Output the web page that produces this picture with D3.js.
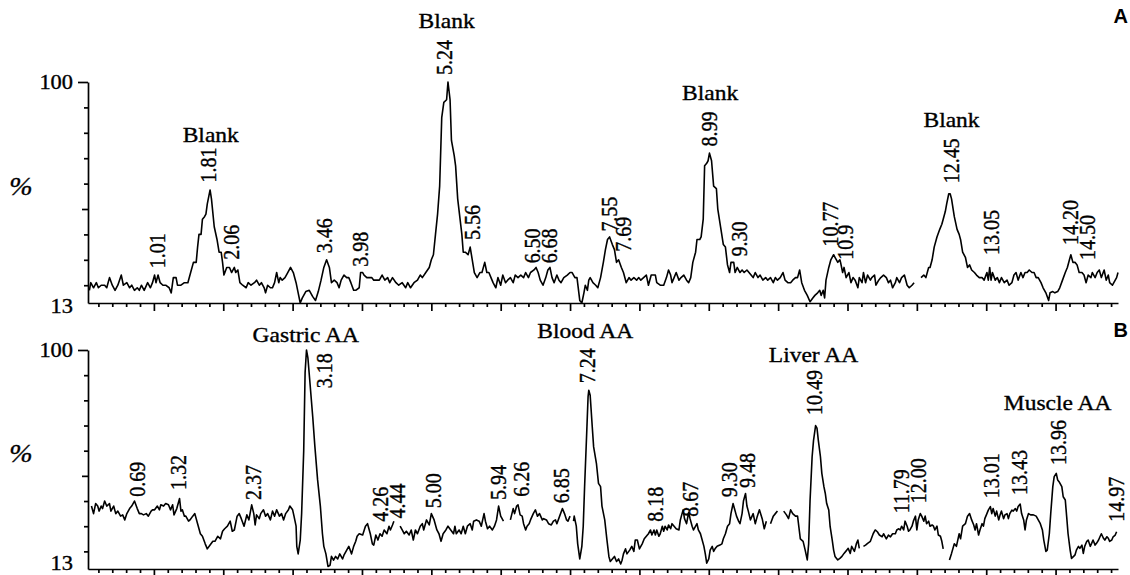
<!DOCTYPE html>
<html>
<head>
<meta charset="utf-8">
<script src="https://cdnjs.cloudflare.com/ajax/libs/d3/7.8.5/d3.min.js"></script>
<style>
    body { margin: 0; background: #fff; }
    svg { display: block; }
    .serif { font-family: "Liberation Serif", "Times New Roman", serif; fill: #000; stroke: #000; stroke-width: 0.35; }
    .trace { fill: none; stroke: #000; stroke-width: 1.6; stroke-linejoin: round; }
    .axis path, .axis line { stroke: #000; stroke-width: 1.7; }
</style>
</head>
<body>
<svg id="chart" width="1130" height="575"></svg>
<script>
"use strict";

// хроматограмма A (холостая проба): [время, мин; интенсивность, %], null = разрыв линии
const traceA = [
    [0.07,18],[0.09,21],[0.13,19],[0.17,21],[0.20,19],[0.24,20],[0.29,20],[0.32,19],[0.36,23],[0.40,20],
    [0.44,18],[0.48,20],[0.53,24],[0.56,20],[0.61,21],[0.65,19],[0.68,20],[0.72,18],[0.76,19],[0.79,18],
    [0.82,20],[0.86,18],[0.91,21],[0.95,19],[0.98,21],[1.01,24],[1.03,21],[1.06,24],[1.09,21],[1.13,20],
    [1.17,20],[1.22,19],[1.25,17],[1.28,23],[1.32,23],[1.34,20],[1.39,20],[1.44,21],[1.49,21],[1.53,25],
    [1.57,29],[1.61,29],[1.63,35],[1.65,40],[1.68,40],[1.70,46],[1.73,47],[1.75,48],[1.77,52],[1.81,57.5],
    [1.83,54],[1.87,43],[1.91,38],[1.94,33],[1.97,33],[1.99,29],[2.01,24],[2.05,27],[2.09,27],[2.12,25],
    [2.16,27],[2.18,25],[2.21,26],[2.24,21],[2.28,20],[2.33,19],[2.36,21],[2.40,20],[2.45,21],[2.48,22],
    [2.52,20],[2.55,21],[2.59,19],[2.61,17],[2.64,20],[2.68,19],[2.71,19],[2.74,21],[2.77,25],[2.80,21],
    [2.82,23],[2.85,22],[2.89,23],[2.93,25],[2.97,27],[3.01,25],[3.05,21],[3.08,17],[3.11,13],[3.14,15],
    [3.19,17.5],[3.24,18],[3.29,15.5],[3.33,14],[3.37,17.5],[3.41,22],[3.45,27],[3.49,30],[3.53,27],[3.56,21],
    [3.60,22],[3.64,21],[3.67,19],[3.70,22],[3.74,24],[3.78,23],[3.81,23],[3.84,21],[3.88,18],[3.91,18],
    [3.96,19],[3.98,25],[4.01,25],[4.03,24],[4.07,23],[4.10,23],[4.14,23],[4.17,22],
    [4.25,22],[4.29,24],[4.33,22],[4.37,23],[4.40,21],[4.44,23],[4.49,21],[4.53,20],[4.58,21],[4.63,19],
    [4.66,21],[4.70,19],[4.75,21],[4.80,22],[4.84,24],[4.87,23],[4.92,25],[4.97,27],[5.00,30],[5.03,32],
    [5.06,40],[5.09,48],[5.12,59],[5.15,86],[5.18,92],[5.22,93],[5.24,100],[5.27,93],[5.29,77],[5.33,71],
    [5.35,67],[5.38,54],[5.41,47],[5.44,40],[5.46,33],[5.49,33],[5.53,32],[5.56,35],[5.59,30],[5.62,25],
    [5.66,23],[5.70,25],[5.73,25],[5.77,29],[5.80,25],[5.83,25],[5.86,23],[5.89,21],[5.93,19],[5.96,23],
    [6.00,20],[6.03,24],[6.07,21],[6.10,22],[6.14,23],[6.18,21],[6.21,24],[6.25,23],[6.29,24],[6.33,23],
    [6.36,25],[6.40,23],[6.43,25],[6.48,26],[6.51,27],[6.54,25],[6.57,22],[6.61,20],[6.65,23],[6.68,26],
    [6.71,27],[6.74,23],[6.77,21],[6.81,24],[6.84,22],[6.87,21],[6.91,23],[6.96,24],[7.00,25],[7.03,25],
    [7.07,23],[7.10,23],[7.14,14],[7.17,13],[7.20,17],[7.22,20],[7.25,18],[7.27,22],[7.29,23],[7.33,21],
    [7.37,20],[7.40,19],[7.44,23],[7.48,29],[7.51,34],[7.54,38],[7.57,39],[7.61,36],[7.64,34],[7.67,29],
    [7.70,30],[7.74,27],[7.77,25],[7.81,21],[7.85,23],[7.88,22],[7.92,23],[7.96,22],[7.99,23],[8.02,22],
    [8.06,23],[8.10,24],[8.13,20],[8.17,24],[8.21,24],[8.23,24],[8.25,21],[8.30,20],[8.35,20],[8.39,23],
    [8.42,26],[8.45,24],[8.47,21],[8.50,23],[8.53,25],[8.57,22],[8.60,23],[8.64,24],[8.68,22],[8.71,21],
    [8.74,23],[8.77,29],[8.81,33],[8.83,38],[8.87,38],[8.89,39],[8.92,46],[8.94,67],[8.97,68],[8.99,69],
    [9.01,72],[9.04,69],[9.07,59],[9.11,58],[9.13,50],[9.17,43],[9.21,36],[9.24,35],[9.27,28],[9.30,25],
    [9.32,29],[9.36,29],[9.38,25],[9.41,27],[9.45,25],[9.48,26],[9.51,25],[9.55,26],
    [9.64,23],[9.67,25],[9.71,23],[9.74,24],[9.78,22],[9.82,23],[9.85,22],[9.89,23],[9.93,21],[9.96,23],
    [9.99,22],[10.03,23],[10.07,25],[10.10,22],[10.14,21],[10.18,21],[10.21,22],[10.25,23],[10.28,23],[10.31,26],
    [10.34,21],[10.38,18],[10.42,16],[10.46,13.5],[10.50,15],[10.53,16],[10.57,17],[10.60,18],[10.62,16],[10.65,18],
    [10.67,15],[10.69,22],[10.73,27],[10.76,30],[10.80,32],[10.82,31],[10.86,29],[10.89,30],[10.90,29],[10.93,25],
    [10.95,27],[10.98,23],[11.02,25],[11.05,21],[11.08,23],[11.11,22],[11.15,19],[11.17,23],[11.21,21],[11.23,25],
    [11.26,21],[11.29,24],[11.33,22],[11.35,23],[11.39,24],[11.41,20],[11.45,22],[11.48,23],[11.52,24],[11.56,23],
    [11.59,21],[11.62,22],[11.65,19],[11.69,21],[11.71,23],[11.75,21],[11.78,23],[11.82,24],[11.86,20],[11.89,19],
    [11.93,20],[11.96,21],null,
    [12.06,23],[12.10,24],[12.13,23],[12.17,27],[12.19,27],[12.22,30],[12.25,35],[12.29,39],[12.33,42],[12.36,44],
    [12.38,46],[12.41,49],[12.43,52],[12.46,56],[12.48,56],[12.50,54],[12.54,47],[12.58,42],[12.61,40],[12.63,38],
    [12.66,33],[12.70,31],[12.73,27],[12.76,28],[12.79,26],[12.83,25],[12.86,24],[12.90,23],[12.94,23],[12.97,22],
    [13.01,25],[13.03,22],[13.05,27],[13.07,22],[13.09,25],[13.13,22],[13.16,23],[13.19,21],[13.22,23],[13.26,21],
    [13.30,22],[13.33,20],[13.37,21],[13.40,24],[13.43,25],[13.46,22],[13.50,25],[13.53,23],[13.56,25],[13.59,25],
    [13.62,26],[13.66,25],[13.69,25],[13.72,23],[13.75,23],[13.79,21],[13.82,19],[13.86,17],[13.90,14],[13.92,17],
    [13.96,17.5],[13.99,17],[14.03,17.5],[14.06,19],[14.10,22],[14.14,25],[14.17,27],[14.20,30],[14.22,32],[14.25,29],
    [14.28,29],[14.31,28],[14.34,25],[14.38,25],[14.41,24],[14.44,21],[14.47,24],[14.51,23],[14.53,25],[14.57,23],
    [14.60,25],[14.63,26],[14.66,23],[14.70,26],[14.73,22],[14.76,24],[14.78,21],[14.82,20],[14.86,22],[14.88,23],
    [14.90,25]
];

// хроматограмма B (образцы AA)
const traceB = [
    [0.10,38],[0.13,35],[0.16,39],[0.19,38],[0.21,36],[0.24,38],[0.26,37],[0.29,40],[0.32,38],[0.36,39],
    [0.38,36],[0.42,38],[0.45,35],[0.48,36],[0.52,34],[0.55,34.5],[0.58,32.5],[0.61,35],[0.65,37],[0.68,38],
    [0.72,40],[0.76,37],[0.79,35],[0.82,35],[0.85,34.5],[0.89,35],[0.92,34],[0.96,36],[0.98,36.5],[1.01,36.5],
    [1.05,38],[1.08,36.5],[1.10,38.5],[1.14,38],[1.17,39],[1.21,38.5],[1.24,36.5],[1.27,38.5],[1.29,34.5],[1.33,37],
    [1.37,41],[1.39,36],[1.41,36.5],[1.44,34],[1.46,34],[1.50,32],[1.52,32.5],[1.56,34],[1.59,35],[1.63,31],
    [1.67,27],[1.70,26],[1.74,23],[1.77,21],[1.81,22.5],[1.85,24],[1.88,24],[1.92,26],[1.96,25],[1.99,28],
    [2.02,29],[2.06,30],[2.10,32],[2.13,28],[2.16,28.5],[2.20,34],[2.23,35],[2.26,33],[2.30,30],[2.34,34.5],
    [2.37,32.5],[2.41,38.5],[2.44,35],[2.46,30.5],[2.48,34.5],[2.52,33],[2.54,35],[2.58,36.5],[2.61,34],[2.64,35],
    [2.68,32.5],[2.71,36],[2.74,34],[2.77,36.5],[2.81,34],[2.84,35],[2.87,32.5],[2.90,35],[2.94,36.5],[2.96,38],
    [3.00,36.5],[3.02,34],[3.05,30],[3.06,22],[3.08,19],[3.11,24.5],[3.13,35],[3.16,60],[3.18,91],[3.20,100],
    [3.22,97],[3.25,87],[3.29,73.5],[3.32,62],[3.36,48.5],[3.40,38],[3.43,27],[3.45,22],[3.48,19],[3.51,14],
    [3.54,14.5],[3.56,18],[3.59,16.5],[3.62,18],[3.65,17],[3.68,19],[3.72,17],[3.74,18.5],[3.78,20.5],[3.81,22],
    [3.85,19],[3.88,22],[3.91,24],[3.93,26],[3.96,27],[4.01,26.5],[4.05,30],[4.08,31],[4.12,27],[4.15,23],
    [4.17,22.5],[4.20,26.5],[4.23,24.5],[4.26,27],[4.29,26],[4.32,28.5],[4.36,27],[4.39,30],[4.41,28.5],[4.44,30.5],
    [4.46,32],null,
    [4.55,30],[4.58,28.5],[4.61,27],[4.64,28],[4.68,26.5],[4.71,28.5],[4.74,24.5],[4.77,28.5],[4.80,27],[4.84,30],
    [4.87,31],[4.89,28.5],[4.93,32.5],[4.97,30.5],[5.00,35],[5.04,32.5],[5.08,28.5],[5.11,27],[5.14,24],[5.17,27],
    [5.21,28.5],[5.24,30],[5.28,28.5],[5.32,27],[5.34,30],[5.36,27],[5.40,28.5],[5.43,27],[5.46,30],[5.49,27],
    [5.52,30],[5.56,31],[5.59,28.5],[5.61,32],[5.65,32.5],[5.69,32],[5.72,30],[5.76,35],[5.78,32],[5.81,29],
    [5.84,30],[5.88,28.5],[5.91,30],[5.94,32.5],[5.97,38],[6.00,34],[6.04,32],null,
    [6.14,32.5],[6.18,37],[6.20,35],[6.23,38],[6.25,38.5],[6.28,34.5],[6.31,34],[6.33,31],[6.36,28.5],[6.38,30],
    [6.41,31],[6.43,32.5],[6.47,35],[6.50,36.5],[6.53,34],[6.56,35],[6.60,32.5],[6.62,33],[6.66,32.5],[6.69,31],
    [6.73,30.5],[6.76,32],[6.79,32.5],[6.81,31],[6.85,34],[6.89,37],[6.92,35],[6.95,32.5],[6.97,32],[7.00,34],null,
    [7.05,32],[7.06,34],[7.09,30],[7.11,23],[7.14,17],[7.17,22],[7.19,30],[7.21,46],[7.24,67],[7.26,81.5],
    [7.27,84],[7.29,82],[7.32,69.5],[7.34,61.5],[7.38,55],[7.41,47],[7.44,45.7],[7.46,38],[7.50,32.5],[7.53,25],
    [7.56,18],[7.58,16],[7.61,17],[7.64,18],[7.67,16],[7.70,17],[7.73,15],[7.75,16.5],[7.77,19],[7.80,21],
    [7.82,19],[7.86,20.5],[7.89,22],[7.92,20],[7.94,24.5],[7.97,24.5],[8.00,21],[8.04,23],[8.07,25],[8.10,26],
    [8.13,27],[8.16,28.5],[8.18,26.5],[8.21,28.5],[8.23,26.5],[8.25,28.5],[8.28,26],[8.30,27],[8.33,30],[8.35,28],
    [8.37,30],[8.40,28.5],[8.42,30.5],[8.45,29],[8.47,31],[8.50,30],[8.53,29],[8.57,28.5],[8.59,32.5],[8.61,34.5],
    [8.63,36.5],[8.65,33],[8.68,31],[8.71,35.5],[8.73,33],[8.76,30],[8.78,28.5],[8.81,30],[8.83,31],[8.85,28.5],
    [8.88,27],[8.90,25],[8.93,22],[8.95,19],[8.97,15.3],[9.00,17],[9.02,20.5],[9.05,22],[9.07,20],[9.09,21],
    [9.12,22],[9.16,22.5],[9.19,23],[9.21,25],[9.24,27],[9.27,30],[9.30,31],[9.32,35],[9.35,39],[9.37,37],
    [9.40,34],[9.43,32],[9.45,31],[9.48,35],[9.50,40],[9.53,43],[9.55,38],[9.57,36],
    [9.60,32.5],[9.64,35],[9.67,31],[9.70,34],[9.73,36.5],[9.77,33],[9.80,29],[9.83,32],null,
    [9.89,31],[9.93,34],[9.96,35],[9.99,36],null,
    [10.08,36],[10.12,34.5],[10.15,33],[10.18,36.5],[10.21,35],[10.25,34],[10.28,34],[10.32,25],[10.36,24],[10.39,20.5],
    [10.42,16.6],[10.44,23],[10.46,40],[10.49,57.6],[10.51,64],[10.54,70],[10.56,69],[10.58,64],[10.61,57.6],[10.63,51],
    [10.66,45.7],[10.68,43],[10.70,39],[10.73,36.4],[10.75,29.8],[10.78,24.5],[10.80,20.5],[10.82,18],[10.86,16.6],[10.89,17.2],
    [10.92,18],[10.95,19.2],[10.99,20.5],[11.01,21.2],[11.04,19.2],[11.06,22],[11.10,20],[11.13,23.2],[11.15,24.5],[11.17,21.2],null,
    [11.23,22],[11.26,22.5],[11.29,23.2],[11.33,24],[11.37,27],[11.40,28.5],[11.43,27.8],[11.46,26.5],[11.50,25.8],[11.52,27],
    [11.56,25],[11.59,26.5],[11.62,25.8],[11.65,27],[11.69,27],[11.71,28.5],[11.74,29],[11.76,28.5],[11.78,30],[11.81,28.5],
    [11.83,32],[11.86,30],[11.88,28],[11.90,28.5],[11.93,30],[11.95,32],[11.98,34],[12.00,28.5],[12.02,32.5],[12.05,35],
    [12.07,34],[12.10,32],[12.12,34],[12.14,31],[12.17,32],[12.19,30],[12.22,30.5],[12.24,30],[12.26,28.5],[12.29,30],
    [12.31,26.5],[12.34,26],[12.36,24],[12.38,21],null,
    [12.47,16.6],[12.50,19.2],[12.54,23],[12.57,22],[12.59,24.5],[12.61,27],[12.63,25],[12.66,30],[12.70,31],[12.73,34],
    [12.76,35],[12.79,32.5],[12.82,30.5],[12.84,28.5],[12.86,31],[12.89,26.5],[12.91,28.5],[12.94,31],[12.96,30],[12.98,33],
    [13.01,35],[13.03,36.4],[13.06,37.8],[13.08,35],[13.10,37],[13.13,34],[13.15,36],[13.18,32.5],[13.20,34.5],[13.22,36],
    [13.25,33],[13.27,34.5],[13.30,35],[13.32,33],[13.34,35],[13.37,36.4],[13.39,36],[13.42,37],[13.44,36],[13.46,37.8],
    [13.49,38.8],[13.51,35],[13.54,32.5],[13.56,28.5],[13.58,32.5],[13.61,35],[13.64,34.5],[13.68,34.5],[13.72,34],[13.75,32.5],
    [13.78,31],[13.81,28.5],[13.83,24.5],[13.86,20],[13.88,20.5],[13.91,27],[13.93,35],[13.96,45.7],[13.98,49.7],[14.01,51],
    [14.03,48.4],[14.05,47.7],[14.09,45.7],[14.11,41.7],[14.14,40.4],[14.16,33.8],[14.18,27],[14.21,20.5],[14.23,17.2],[14.26,18],
    [14.28,18.6],[14.30,20.5],[14.33,22],[14.35,21.2],[14.38,22.5],[14.40,19.2],[14.42,22],[14.45,24],[14.47,24.5],[14.50,22],
    [14.52,23.2],[14.54,24.5],[14.57,22.5],[14.59,23.2],[14.62,24.5],[14.64,25.8],[14.66,27],[14.69,25.2],[14.71,24.5],[14.74,25.8],
    [14.76,25.2],[14.78,24],[14.81,24.5],[14.83,25.8],[14.86,26.5],[14.88,27.8]
];

// подписи пиков: [текст, время, уровень начала подписи, %]
const peaksA = [
    ["1.01",1.04,26.7],["1.81",1.78,60.4],["2.06",2.12,30],["3.46",3.45,32.6],["3.98",3.97,27.3],
    ["5.24",5.19,102.8],["5.56",5.59,37.8],["6.50",6.46,28.6],["6.68",6.70,28.6],["7.55",7.56,41.1],
    ["7.69",7.76,33.2],["8.99",9.01,74.6],["9.30",9.44,31.3],["10.77",10.75,35.2],["10.9",10.96,30],
    ["12.45",12.49,60.1],["13.05",13.07,31.9],["14.20",14.21,35.8],["14.50",14.46,29.9]
];
const peaksB = [
    ["0.69",0.76,41.7],["1.32",1.35,44.4],["2.37",2.43,40.4],["3.18",3.45,84.8],["4.26",4.26,31.8],
    ["4.44",4.51,33.1],["5.00",5.02,37.1],["5.94",5.97,40.4],["6.26",6.30,41.7],["6.85",6.87,39.1],
    ["7.24",7.25,86.8],["8.18",8.23,31.8],["8.67",8.73,33.8],["9.30",9.30,41.5],["9.48",9.55,45.2],
    ["10.49",10.52,74.2],["11.79",11.77,35.1],["12.00",12.02,39.1],["13.01",13.07,41.1],["13.43",13.48,42.4],
    ["13.96",14.03,54.3],["14.97",14.88,31.8]
];

// названия проб: [текст, время (центр), уровень базовой линии, %]
const namesA = [["Blank",1.82,76.4],["Blank",5.22,121.1],["Blank",9.02,92.9],["Blank",12.50,82.4]];
const namesB = [["Gastric AA",3.19,103],["Blood AA",7.22,104.6],["Liver AA",10.51,95.4],["Muscle AA",14.03,76.2]];

// деления осей
const xMajorTicks = [1,2,3,4,5,6,7,8,9,10,11,12,13,14];
const yLabelTicks = [13, 100];
const yMinorTicks = [20, 30, 40, 50, 60, 70, 80, 90, 100];

const STRETCH = 1.12;  // скан растянут по горизонтали

let svg = d3.select("#chart");

let x = d3.scaleLinear().domain([0.05, 14.9]).range([88, 1118]);
let xMinorTicks = d3.range(1, 75).map((i) => i / 5).filter((t) => Math.abs(t - Math.round(t)) > 1e-6);

let panels = [
    {trace: traceA, peaks: peaksA, names: namesA, letter: "A", top: 82, bottom: 303, letterY: 23, lowDy: "0.45em"},
    {trace: traceB, peaks: peaksB, names: namesB, letter: "B", top: 350, bottom: 569, letterY: 337, lowDy: "0.02em"},
];

panels.forEach(function (p) {
    let y = d3.scaleLinear().domain([13, 100]).range([p.bottom, p.top]);
    let g = svg.append("g");

    // ось X: крупные и мелкие деления
    g.append("g")
        .attr("class", "axis")
        .attr("transform", `translate(0,${p.bottom})`)
        .call(d3.axisBottom(x).tickValues(xMajorTicks).tickSize(8).tickSizeOuter(0).tickFormat(""));
    g.append("g")
        .attr("class", "axis")
        .attr("transform", `translate(0,${p.bottom})`)
        .call(d3.axisBottom(x).tickValues(xMinorTicks).tickSize(4).tickSizeOuter(0).tickFormat(""))
        .select(".domain").remove();

    // ось Y: штрихи
    let yAxis = g.append("g")
        .attr("class", "axis")
        .attr("transform", `translate(${x.range()[0]},0)`)
        .call(d3.axisLeft(y).tickValues(yMinorTicks).tickSizeOuter(0).tickFormat(""));
    yAxis.selectAll(".tick line")
        .attr("x2", (d) => d === 100 ? -10 : d === 50 ? -6 : -4);

    // ось Y: подписи 13 и 100
    let yLab = g.append("g")
        .attr("transform", `translate(${x.range()[0]},0)`)
        .call(d3.axisLeft(y).tickValues(yLabelTicks).tickSize(0).tickPadding(13.4));
    yLab.select(".domain").remove();
    yLab.selectAll("text")
        .attr("class", "serif")
        .style("font-size", "20px")
        .attr("fill", "#000")
        .attr("dy", (d) => d === 13 ? p.lowDy : "0.3em")
        .attr("transform", `scale(${STRETCH},1)`);

    // знак процента
    g.append("text")
        .attr("class", "serif")
        .attr("transform", `translate(21,${y(59)}) scale(${STRETCH},1)`)
        .attr("text-anchor", "middle")
        .attr("dy", "0.35em")
        .style("font-size", "25px")
        .style("font-style", "italic")
        .text("%");

    // сама хроматограмма
    let line = d3.line()
        .defined((d) => d !== null)
        .x((d) => x(d[0]))
        .y((d) => y(d[1]));
    g.append("path")
        .datum(p.trace)
        .attr("class", "trace")
        .attr("d", line);

    // вертикальные подписи времён удерживания
    g.selectAll(".peak")
        .data(p.peaks)
        .join("text")
        .attr("class", "serif peak")
        .attr("transform", (d) => `translate(${x(d[1])},${y(d[2])}) scale(${STRETCH},1) rotate(-90)`)
        .attr("dy", "0.35em")
        .style("font-size", "20px")
        .text((d) => d[0]);

    // названия проб
    g.selectAll(".name")
        .data(p.names)
        .join("text")
        .attr("class", "serif name")
        .attr("transform", (d) => `translate(${x(d[1])},${y(d[2])}) scale(${STRETCH},1)`)
        .attr("text-anchor", "middle")
        .style("font-size", "21px")
        .text((d) => d[0]);

    // буква панели
    g.append("text")
        .attr("x", 1128)
        .attr("y", p.letterY)
        .attr("text-anchor", "end")
        .style("font-family", "'Liberation Sans', Arial, sans-serif")
        .style("font-weight", "bold")
        .style("font-size", "20px")
        .text(p.letter);
});
</script>
</body>
</html>
